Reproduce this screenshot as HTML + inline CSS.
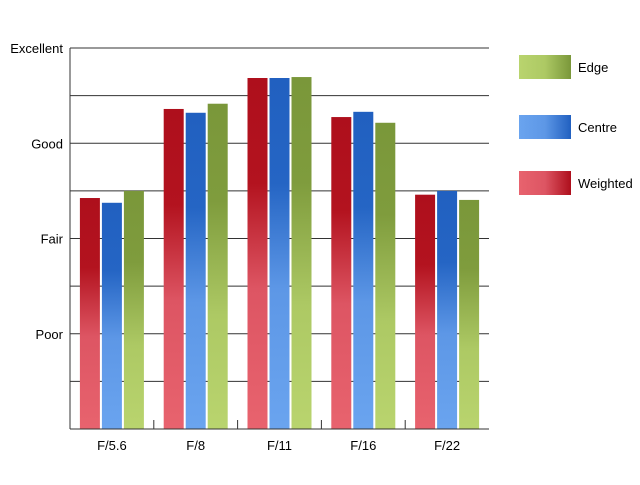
<!DOCTYPE html>
<html><head><meta charset="utf-8"><style>
body{margin:0;background:#fff;font-family:"Liberation Sans",sans-serif}
svg text{font-family:"Liberation Sans",sans-serif;font-size:13px;fill:#000}
</style></head><body>
<svg id="chart" width="640" height="480" xmlns="http://www.w3.org/2000/svg">
<defs>
<linearGradient id="gR" x1="0" y1="0" x2="0" y2="1"><stop offset="0" stop-color="#ae0f1c"/><stop offset="0.3" stop-color="#b3131f"/><stop offset="0.6" stop-color="#dd5563"/><stop offset="1" stop-color="#e8636e"/></linearGradient>
<linearGradient id="gB" x1="0" y1="0" x2="0" y2="1"><stop offset="0" stop-color="#2160c0"/><stop offset="0.3" stop-color="#2565c4"/><stop offset="0.6" stop-color="#5d97e6"/><stop offset="1" stop-color="#6aa4ef"/></linearGradient>
<linearGradient id="gG" x1="0" y1="0" x2="0" y2="1"><stop offset="0" stop-color="#7a973a"/><stop offset="0.3" stop-color="#7f9c3d"/><stop offset="0.65" stop-color="#adc964"/><stop offset="1" stop-color="#b9d46e"/></linearGradient>
<linearGradient id="lR" x1="0" y1="0" x2="1" y2="0"><stop offset="0" stop-color="#e8636e"/><stop offset="0.5" stop-color="#dd5563"/><stop offset="1" stop-color="#ae0f1c"/></linearGradient>
<linearGradient id="lB" x1="0" y1="0" x2="1" y2="0"><stop offset="0" stop-color="#6aa4ef"/><stop offset="0.5" stop-color="#5d97e6"/><stop offset="1" stop-color="#2160c0"/></linearGradient>
<linearGradient id="lG" x1="0" y1="0" x2="1" y2="0"><stop offset="0" stop-color="#b9d46e"/><stop offset="0.5" stop-color="#adc964"/><stop offset="1" stop-color="#7a973a"/></linearGradient>
</defs>
<g id="grid"></g><g id="bars"></g><g id="axes"></g><g id="legend"></g>
</svg>
<script>
const categories=["F/5.6","F/8","F/11","F/16","F/22"];
const weighted=[4.85,6.72,7.37,6.55,4.92];
const centre=[4.75,6.64,7.37,6.66,5.0];
const edge=[5.0,6.83,7.39,6.43,4.81];
const yTickLabels=["Poor","Fair","Good","Excellent"];
const yTickValues=[2,4,6,8];
const NS="http://www.w3.org/2000/svg";
const X0=70,X1=489,Y0=429,Ytop=48,YMAX=8;
const y=v=>Y0-(v/YMAX)*(Y0-Ytop);
const bw=(X1-X0)/categories.length;
function mk(tag,attrs,parent){const e=document.createElementNS(NS,tag);for(const k in attrs)e.setAttribute(k,attrs[k]);parent.appendChild(e);return e;}
const grid=document.getElementById('grid'),bars=document.getElementById('bars'),axes=document.getElementById('axes'),legend=document.getElementById('legend');
for(let i=1;i<=YMAX;i++){const l=mk('line',{x1:X0,x2:X1,y1:y(i),y2:y(i),stroke:'#333','stroke-width':1},grid);

}
yTickValues.forEach((v,i)=>{const t=mk('text',{x:63,y:y(v)+5,'text-anchor':'end'},axes);t.textContent=yTickLabels[i];

});
const series=[[weighted,'url(#gR)','bar-weighted'],[centre,'url(#gB)','bar-centre'],[edge,'url(#gG)','bar-edge']];
categories.forEach((c,i)=>{
 const cx=X0+bw*(i+0.5);
 series.forEach((s,j)=>{const x=cx-32+j*22;const r=mk('rect',{x:x,y:y(s[0][i]),width:20,height:Y0-y(s[0][i]),fill:s[1]},bars);
 
 });
 const t=mk('text',{x:cx,y:Y0+21,'text-anchor':'middle'},axes);t.textContent=c;
 
 
 if(i>0){const tk=mk('line',{x1:X0+bw*i,x2:X0+bw*i,y1:Y0-9,y2:Y0,stroke:'#333'},axes);
 
 }
});
const ax=mk('line',{x1:X0,x2:X0,y1:Ytop,y2:Y0,stroke:'#333'},axes);


const bx=mk('line',{x1:X0,x2:X1,y1:Y0,y2:Y0,stroke:'#333'},axes);


[["Edge","url(#lG)",55],["Centre","url(#lB)",115],["Weighted","url(#lR)",171]].forEach(e=>{
 const g=mk('g',{},legend);
 
 
 mk('rect',{x:519,y:e[2],width:52,height:24,fill:e[1]},g);
 const t=mk('text',{x:578,y:e[2]+17},g);t.textContent=e[0];
});
</script>
</body></html>
